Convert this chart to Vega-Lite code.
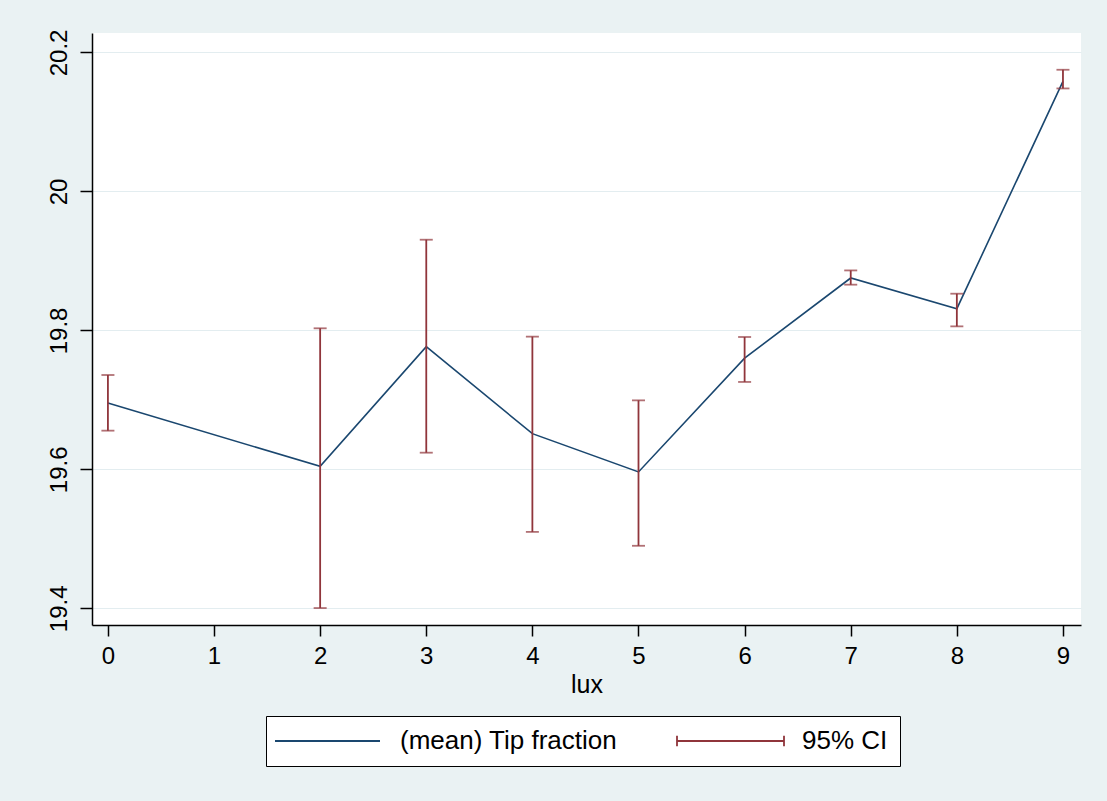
{
  "$schema": "https://vega.github.io/schema/vega-lite/v6.json",
  "width": 989,
  "height": 592,
  "autosize": {"type": "none"},
  "padding": {"left": 92, "top": 33, "right": 26, "bottom": 176},
  "background": "#eaf2f3",
  "config": {
    "font": "Liberation Sans",
    "view": {"fill": "white", "stroke": null},
    "axisX": {
      "domainColor": "black", "domainWidth": 1.5, "tickColor": "black", "tickSize": 11, "tickWidth": 1.5,
      "labelFontSize": 24, "labelColor": "black", "labelPadding": 8, "labelFlush": false,
      "titleFontSize": 25, "titleFontWeight": "normal", "titleColor": "black", "titlePadding": 4, "grid": false
    },
    "axisY": {
      "domainColor": "black", "domainWidth": 1.5, "tickColor": "black", "tickSize": 12, "tickWidth": 1.5,
      "labelFontSize": 24, "labelColor": "black", "labelPadding": 9, "labelFlush": false, "labelAngle": -90,
      "grid": true, "gridColor": "#e3edf0", "gridWidth": 1.2
    }
  },
  "data": {
    "values": [
      {"lux": 0, "mean": 19.6955, "lo": 19.6557, "hi": 19.7358},
      {"lux": 2, "mean": 19.6043, "lo": 19.4004, "hi": 19.803},
      {"lux": 3, "mean": 19.7765, "lo": 19.624, "hi": 19.9305},
      {"lux": 4, "mean": 19.6514, "lo": 19.51, "hi": 19.791},
      {"lux": 5, "mean": 19.5963, "lo": 19.49, "hi": 19.6993},
      {"lux": 6, "mean": 19.76, "lo": 19.7258, "hi": 19.7905},
      {"lux": 7, "mean": 19.8754, "lo": 19.8658, "hi": 19.8863},
      {"lux": 8, "mean": 19.8312, "lo": 19.8058, "hi": 19.8528},
      {"lux": 9, "mean": 20.1583, "lo": 20.1482, "hi": 20.1751}
    ]
  },
  "encoding": {
    "x": {
      "field": "lux", "type": "quantitative",
      "scale": {"domain": [-0.15, 9.17], "nice": false, "zero": false},
      "axis": {"title": "lux", "values": [0, 1, 2, 3, 4, 5, 6, 7, 8, 9], "format": "d"}
    }
  },
  "layer": [
    {
      "mark": {"type": "line", "strokeWidth": 1.6},
      "encoding": {
        "y": {
          "field": "mean", "type": "quantitative",
          "scale": {"domain": [19.376, 20.228], "nice": false, "zero": false},
          "axis": {"title": null, "values": [19.4, 19.6, 19.8, 20, 20.2], "format": "~g"}
        },
        "color": {
          "datum": "(mean) Tip fraction",
          "scale": {"domain": ["(mean) Tip fraction", "95% CI"], "range": ["#1a476f", "#90353b"]},
          "legend": {
            "orient": "none", "legendX": 174, "legendY": 683, "direction": "horizontal",
            "title": null, "strokeColor": "black", "fillColor": "white", "padding": 12,
            "labelFontSize": 26, "labelColor": "black", "labelLimit": 400, "labelOffset": 96,
            "columnPadding": 55, "symbolSize": 400, "symbolStrokeWidth": 1.8, "symbolType": "stroke",
            "encode": {
              "symbols": {
                "update": {
                  "shape": {"signal": "datum.label === '95% CI' ? 'M-1.6,-0.53L-1.6,0.53M-1.6,0L9.1,0M9.1,-0.53L9.1,0.53' : 'M-1.6,0L8.9,0'"},
                  "fill": {"value": "transparent"}
                }
              }
            }
          }
        }
      }
    },
    {
      "mark": {"type": "errorbar", "ticks": {"size": 13}, "thickness": 1.8},
      "encoding": {
        "y": {
          "field": "lo", "type": "quantitative",
          "scale": {"domain": [19.376, 20.228], "nice": false, "zero": false},
          "axis": {"title": null, "values": [19.4, 19.6, 19.8, 20, 20.2], "format": "~g"}
        },
        "y2": {"field": "hi"},
        "color": {"datum": "95% CI"}
      }
    }
  ]
}
